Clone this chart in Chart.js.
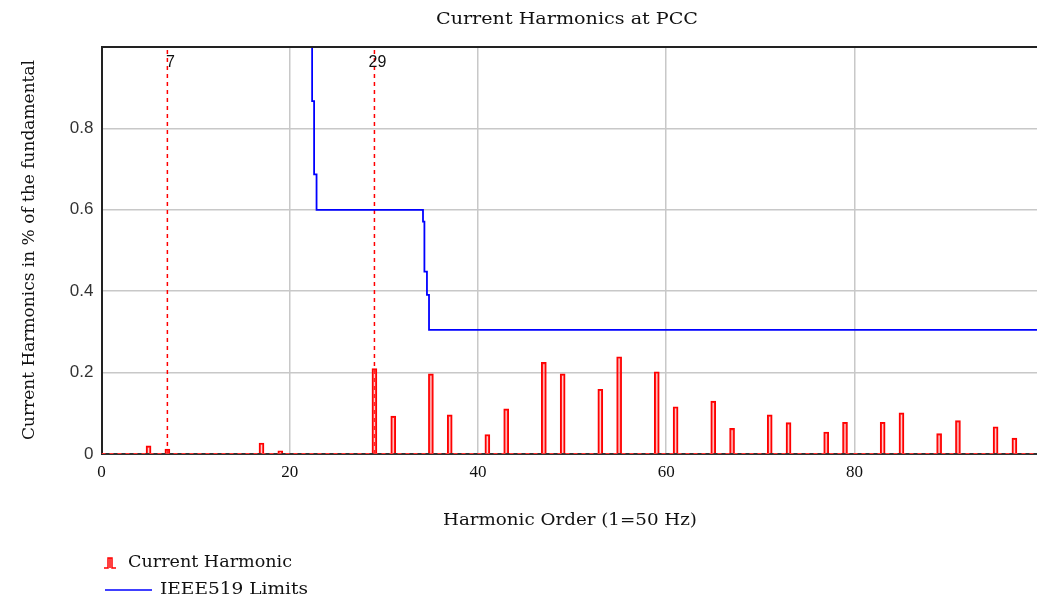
<!DOCTYPE html>
<html lang="en">
<head>
    <meta charset="UTF-8">
    <title>Current Harmonics at PCC</title>
    <script src="https://cdn.jsdelivr.net/npm/chart.js"></script>
    <style>
        body {
            margin: 0;
            padding: 0;
            background-color: #ffffff;
        }

        .chart-container {
            width: 1037px;
            height: 600px;
            position: relative;
        }
    </style>
</head>
<body>

    <div class="chart-container">
        <canvas id="harmonicChart"></canvas>
    </div>

    <script>
        // Harmonic orders and their current (in % of the fundamental)
        const harmonicOrders = [5, 7, 17, 19, 29, 31, 35, 37, 41, 43, 47, 49, 53, 55, 59, 61, 65, 67, 71, 73, 77, 79, 83, 85, 89, 91, 95, 97];
        const harmonicValues = [0.020, 0.012, 0.027, 0.008, 0.210, 0.093, 0.197, 0.096, 0.048, 0.111, 0.225, 0.197, 0.159, 0.239, 0.202, 0.116, 0.130, 0.063, 0.096, 0.077, 0.054, 0.078, 0.078, 0.101, 0.050, 0.082, 0.067, 0.039];

        // IEEE519 limit curve (stepped)
        const limitOrders = [22.38, 22.38, 22.59, 22.59, 22.85, 22.85, 34.16, 34.16, 34.31, 34.31, 34.58, 34.58, 34.80, 34.80, 99.4];
        const limitValues = [1.00, 0.867, 0.867, 0.687, 0.687, 0.600, 0.600, 0.571, 0.571, 0.448, 0.448, 0.391, 0.391, 0.305, 0.305];

        // Marked harmonic orders
        const markerOrders = [7, 29];

        const xTicks = [0, 20, 40, 60, 80];
        const yTicks = [0, 0.2, 0.4, 0.6, 0.8];

        const serif = '"DejaVu Serif", "Liberation Serif", serif';
        const sans = '"Liberation Sans", Arial, sans-serif';

        const barData = harmonicOrders.map((h, i) => ({ x: h, y: harmonicValues[i] }));
        const limitData = limitOrders.map((h, i) => ({ x: h, y: limitValues[i] }));

        const markerSets = markerOrders.map(h => ({
            type: 'line',
            label: 'marker ' + h,
            data: [{ x: h, y: 0 }, { x: h, y: 1 }],
            borderColor: '#ff0000',
            borderWidth: 1.5,
            borderDash: [4, 4],
            pointRadius: 0,
            order: 3
        }));

        // draw text horizontally scaled to a given width, starting at x
        function fitText(ctx, text, x, y, width) {
            const w = ctx.measureText(text).width;
            ctx.save();
            ctx.translate(x, y);
            ctx.scale(width / w, 1);
            ctx.textAlign = 'left';
            ctx.fillText(text, 0, 0);
            ctx.restore();
        }

        // Draws titles, legend, marker labels and the top frame
        const decorations = {
            id: 'decorations',
            afterDraw(chart) {
                const ctx = chart.ctx;
                const area = chart.chartArea;
                const xs = chart.scales.x;
                ctx.save();

                // top frame line
                ctx.strokeStyle = '#222222';
                ctx.lineWidth = 2;
                ctx.beginPath();
                ctx.moveTo(area.left, area.top);
                ctx.lineTo(area.right, area.top);
                ctx.stroke();

                ctx.fillStyle = '#111111';
                ctx.textBaseline = 'middle';

                ctx.font = '16px ' + serif;
                fitText(ctx, 'Current Harmonics at PCC', 436, 20, 262);
                fitText(ctx, 'Harmonic Order (1=50 Hz)', 443, 521, 254);

                ctx.save();
                ctx.translate(30, 440);
                ctx.rotate(-Math.PI / 2);
                fitText(ctx, 'Current Harmonics in % of the fundamental', 0, 0, 380);
                ctx.restore();

                // marker labels
                ctx.textAlign = 'center';
                ctx.font = '16px ' + sans;
                markerOrders.forEach(h => {
                    ctx.fillText(String(h), xs.getPixelForValue(h) + 3, 63);
                });

                // legend
                ctx.font = '16px ' + serif;
                ctx.strokeStyle = '#ff0000';
                ctx.lineWidth = 1.5;
                ctx.beginPath();
                ctx.moveTo(104, 568);
                ctx.lineTo(108, 568);
                ctx.lineTo(108, 558);
                ctx.lineTo(112, 558);
                ctx.lineTo(112, 568);
                ctx.lineTo(116, 568);
                ctx.moveTo(110, 558);
                ctx.lineTo(110, 568);
                ctx.stroke();
                fitText(ctx, 'Current Harmonic', 128, 563, 164);

                ctx.strokeStyle = '#0000ff';
                ctx.lineWidth = 1.5;
                ctx.beginPath();
                ctx.moveTo(105, 590);
                ctx.lineTo(152, 590);
                ctx.stroke();
                fitText(ctx, 'IEEE519 Limits', 160, 590, 148);

                ctx.restore();
            }
        };

        function initializeChart() {
            const ctx = document.getElementById('harmonicChart').getContext('2d');
            new Chart(ctx, {
                type: 'bar',
                data: {
                    datasets: [
                        {
                            label: 'Current Harmonic',
                            data: barData,
                            backgroundColor: 'rgba(255, 110, 110, 0.35)',
                            borderColor: '#ff0000',
                            borderWidth: 1.5,
                            borderSkipped: 'bottom',
                            barThickness: 5,
                            order: 2
                        },
                        {
                            type: 'line',
                            label: 'IEEE519 Limits',
                            data: limitData,
                            borderColor: '#0000ff',
                            borderWidth: 1.8,
                            pointRadius: 0,
                            tension: 0,
                            order: 1
                        },
                        ...markerSets,
                        {
                            type: 'line',
                            label: 'baseline',
                            data: [{ x: 0, y: 0 }, { x: 99.4, y: 0 }],
                            borderColor: '#ff3030',
                            borderWidth: 2,
                            borderDash: [4, 4],
                            pointRadius: 0,
                            order: 0
                        }
                    ]
                },
                options: {
                    responsive: true,
                    maintainAspectRatio: false,
                    animation: false,
                    layout: {
                        padding: { top: 47, right: 0, bottom: 0, left: 0 }
                    },
                    plugins: {
                        legend: { display: false },
                        title: { display: false },
                        tooltip: { enabled: false }
                    },
                    scales: {
                        x: {
                            type: 'linear',
                            min: 0,
                            max: 99.4,
                            offset: false,
                            afterBuildTicks: axis => {
                                axis.ticks = xTicks.map(v => ({ value: v }));
                            },
                            afterFit: axis => {
                                axis.height = 146;
                            },
                            grid: {
                                offset: false,
                                color: '#c8c8c8',
                                lineWidth: 1.5,
                                drawTicks: false
                            },
                            border: { color: '#333333', width: 2 },
                            ticks: {
                                padding: 8,
                                maxRotation: 0,
                                color: '#111111',
                                font: { family: '"Liberation Serif", serif', size: 17 }
                            }
                        },
                        y: {
                            min: 0,
                            max: 1,
                            afterBuildTicks: axis => {
                                axis.ticks = yTicks.map(v => ({ value: v }));
                            },
                            afterFit: axis => {
                                axis.width = 101.5;
                            },
                            grid: {
                                color: '#c8c8c8',
                                lineWidth: 1.5,
                                drawTicks: false
                            },
                            border: { color: '#222222', width: 2 },
                            ticks: {
                                padding: 8,
                                color: '#333333',
                                font: { family: sans, size: 17 }
                            }
                        }
                    }
                },
                plugins: [decorations]
            });
        }

        window.onload = initializeChart;
    </script>

</body>
</html>
